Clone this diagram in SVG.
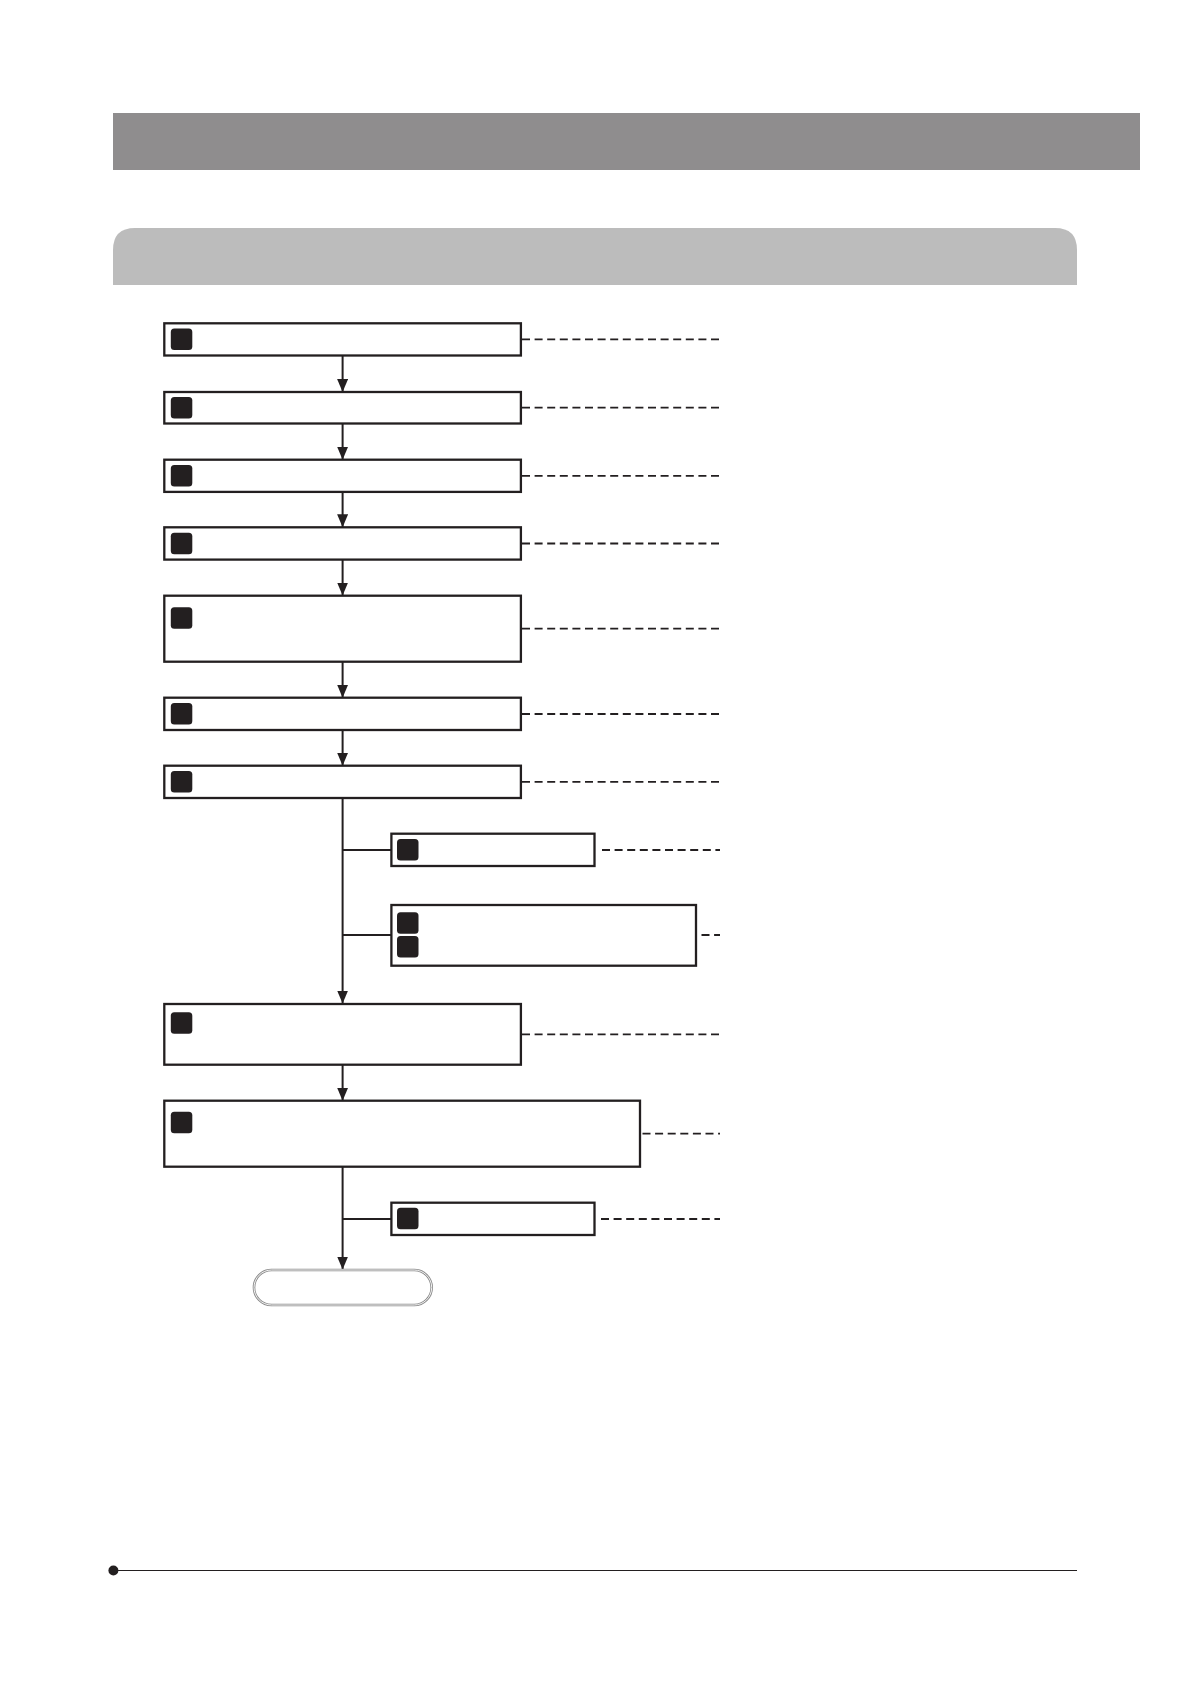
<svg xmlns="http://www.w3.org/2000/svg" width="1191" height="1684" viewBox="0 0 1191 1684">
<defs>
<style>
.box{fill:#fff;stroke:#231f20;stroke-width:2.3}
.sq{fill:#231f20}
.ln{stroke:#231f20;stroke-width:2;fill:none}
.dash{stroke:#231f20;stroke-width:1.8;stroke-dasharray:8 4.6;fill:none}
</style>
<marker id="arr" viewBox="0 0 13 11" refX="13" refY="5.5" markerWidth="13" markerHeight="11" markerUnits="userSpaceOnUse" orient="auto">
<path d="M0,0 L13,5.5 L0,11 z" fill="#231f20"/>
</marker>
</defs>
<rect x="0" y="0" width="1191" height="1684" fill="#fff"/>
<g id="header">
<rect x="113" y="113" width="1027" height="57" fill="#8f8d8e"/>
<path d="M113,285 L113,250 Q113,228 135,228 L1055,228 Q1077,228 1077,250 L1077,285 Z" fill="#bcbcbc"/>
</g>
<g id="connectors">
<line class="ln" x1="342.6" y1="355.5" x2="342.6" y2="392" marker-end="url(#arr)"/>
<line class="ln" x1="342.6" y1="423.5" x2="342.6" y2="459.7" marker-end="url(#arr)"/>
<line class="ln" x1="342.6" y1="491.9" x2="342.6" y2="527.3" marker-end="url(#arr)"/>
<line class="ln" x1="342.6" y1="559.6" x2="342.6" y2="595.5" marker-end="url(#arr)"/>
<line class="ln" x1="342.6" y1="661.7" x2="342.6" y2="697.7" marker-end="url(#arr)"/>
<line class="ln" x1="342.6" y1="730" x2="342.6" y2="765.7" marker-end="url(#arr)"/>
<line class="ln" x1="342.6" y1="798" x2="342.6" y2="1003.5" marker-end="url(#arr)"/>
<line class="ln" x1="342.6" y1="850" x2="391.4" y2="850"/>
<line class="ln" x1="342.6" y1="935" x2="391.4" y2="935"/>
<line class="ln" x1="342.6" y1="1064.7" x2="342.6" y2="1100.7" marker-end="url(#arr)"/>
<line class="ln" x1="342.6" y1="1166.7" x2="342.6" y2="1269.5" marker-end="url(#arr)"/>
<line class="ln" x1="342.6" y1="1219" x2="391.4" y2="1219"/>
<line class="dash" x1="522" y1="339.4" x2="720" y2="339.4"/>
<line class="dash" x1="522" y1="407.7" x2="720" y2="407.7"/>
<line class="dash" x1="522" y1="475.8" x2="720" y2="475.8"/>
<line class="dash" x1="522" y1="543.5" x2="720" y2="543.5"/>
<line class="dash" x1="522" y1="628.7" x2="720" y2="628.7"/>
<line class="dash" x1="522" y1="714" x2="720" y2="714"/>
<line class="dash" x1="522" y1="781.9" x2="720" y2="781.9"/>
<line class="dash" x1="602" y1="850" x2="720" y2="850"/>
<line class="dash" x1="701.5" y1="935" x2="720" y2="935"/>
<line class="dash" x1="522" y1="1034.3" x2="720" y2="1034.3"/>
<line class="dash" x1="642.5" y1="1133.7" x2="720" y2="1133.7"/>
<line class="dash" x1="601" y1="1219" x2="720" y2="1219"/>
</g>
<g id="n1"><rect class="box" x="164.3" y="323.3" width="356.6" height="32.2"/><rect class="sq" x="170.8" y="328.6" width="21.5" height="21.5" rx="3.5"/></g>
<g id="n2"><rect class="box" x="164.3" y="392" width="356.6" height="31.5"/><rect class="sq" x="170.8" y="397" width="21.5" height="21.5" rx="3.5"/></g>
<g id="n3"><rect class="box" x="164.3" y="459.7" width="356.6" height="32.2"/><rect class="sq" x="170.8" y="465" width="21.5" height="21.5" rx="3.5"/></g>
<g id="n4"><rect class="box" x="164.3" y="527.3" width="356.6" height="32.3"/><rect class="sq" x="170.8" y="532.7" width="21.5" height="21.5" rx="3.5"/></g>
<g id="n5"><rect class="box" x="164.3" y="595.7" width="356.6" height="66"/><rect class="sq" x="170.8" y="607.3" width="21.5" height="21.5" rx="3.5"/></g>
<g id="n6"><rect class="box" x="164.3" y="697.7" width="356.6" height="32.3"/><rect class="sq" x="170.8" y="703.1" width="21.5" height="21.5" rx="3.5"/></g>
<g id="n7"><rect class="box" x="164.3" y="765.7" width="356.6" height="32.3"/><rect class="sq" x="170.8" y="771.1" width="21.5" height="21.5" rx="3.5"/></g>
<g id="nA"><rect class="box" x="391.4" y="833.7" width="203.1" height="32.3"/><rect class="sq" x="397" y="839.1" width="21.5" height="21.5" rx="3.5"/></g>
<g id="nB"><rect class="box" x="391.4" y="905" width="304.6" height="60.7"/><rect class="sq" x="397" y="912.3" width="21.5" height="21.5" rx="3.5"/><rect class="sq" x="397" y="936" width="21.5" height="21.5" rx="3.5"/></g>
<g id="n8"><rect class="box" x="164.3" y="1004" width="356.6" height="60.7"/><rect class="sq" x="170.8" y="1012.3" width="21.5" height="21.5" rx="3.5"/></g>
<g id="n9"><rect class="box" x="164.3" y="1100.7" width="475.7" height="66"/><rect class="sq" x="170.8" y="1111.7" width="21.5" height="21.5" rx="3.5"/></g>
<g id="nC"><rect class="box" x="391.4" y="1202.7" width="203.1" height="32.3"/><rect class="sq" x="397" y="1207.8" width="21.5" height="21.5" rx="3.5"/></g>
<g id="end"><rect x="254" y="1270" width="177.7" height="35" rx="17.5" fill="#fff" stroke="#8a8a8a" stroke-width="2.6"/><rect x="254" y="1270" width="177.7" height="35" rx="17.5" fill="none" stroke="#fff" stroke-width="0.9"/></g>
<g id="footer">
<line x1="113" y1="1570.5" x2="1077" y2="1570.5" stroke="#231f20" stroke-width="1.2"/>
<circle cx="113.4" cy="1570.5" r="5" fill="#231f20"/>
</g>
</svg>
